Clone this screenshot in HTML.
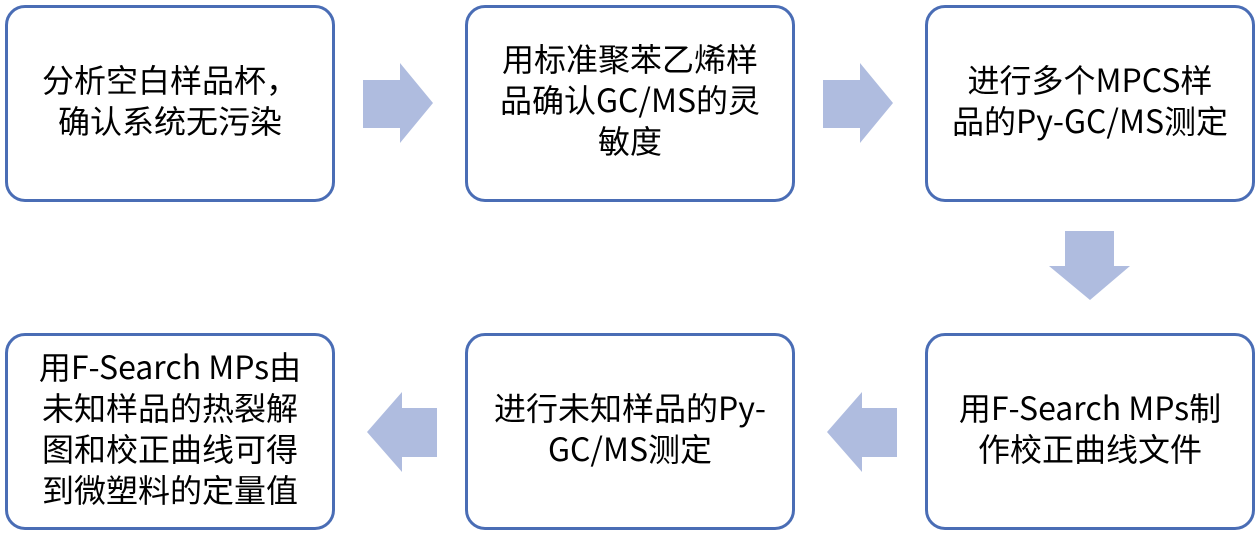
<!DOCTYPE html>
<html><head><meta charset="utf-8"><style>
body{margin:0;width:1260px;height:538px;background:#fff;position:relative;overflow:hidden;font-family:"Noto Sans CJK SC","Liberation Sans",sans-serif;}
.b{position:absolute;width:324px;height:191px;border:3px solid #4a6db5;border-radius:20px;display:flex;align-items:center;justify-content:center;text-align:center;font-size:32px;line-height:41px;color:#000;box-sizing:content-box;white-space:nowrap;}
.b span{position:relative;top:-4px}
svg{position:absolute;left:0;top:0}
</style></head><body>
<div class="b" style="left:5px;top:5px"><span>分析空白样品杯，<br>确认系统无污染</span></div>
<div class="b" style="left:465px;top:5px"><span>用标准聚苯乙烯样<br>品确认GC/MS的灵<br>敏度</span></div>
<div class="b" style="left:925px;top:5px"><span>进行多个MPCS样<br>品的Py-GC/MS测定</span></div>
<div class="b" style="left:5px;top:333px"><span>用F-Search MPs由<br>未知样品的热裂解<br>图和校正曲线可得<br>到微塑料的定量值</span></div>
<div class="b" style="left:465px;top:333px"><span>进行未知样品的Py-<br>GC/MS测定</span></div>
<div class="b" style="left:925px;top:333px"><span>用F-Search MPs制<br>作校正曲线文件</span></div>
<svg width="1260" height="538">
<g fill="#afbcdf">
<polygon points="363,80 400,80 400,63 433,103 400,143 400,128 363,128"/>
<polygon points="823,80 860,80 860,63 893,103 860,143 860,128 823,128"/>
<polygon points="1065,231 1114,231 1114,266 1130,266 1090,300 1049,266 1065,266"/>
<polygon points="897,408 862,408 862,392 827,432 862,472 862,457 897,457"/>
<polygon points="437,408 402,408 402,392 367,432 402,472 402,457 437,457"/>
</g></svg>
</body></html>
